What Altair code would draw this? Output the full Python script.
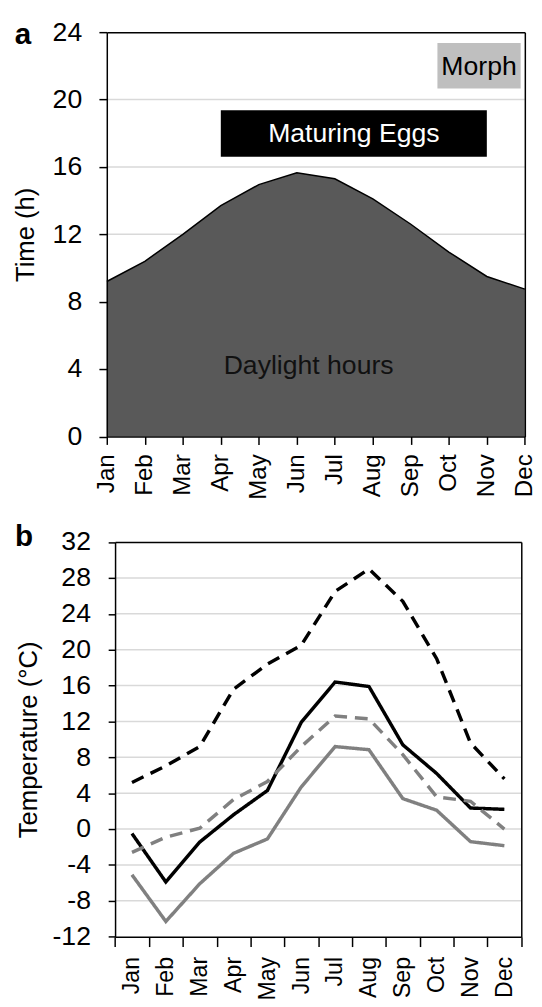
import altair as alt
import pandas as pd

FONT = "Liberation Sans"

# ---------------- data ----------------
months = ["Jan", "Feb", "Mar", "Apr", "May", "Jun", "Jul", "Aug", "Sep", "Oct", "Nov", "Dec"]

# panel a: daylight hours
daylight = [9.2, 10.4, 12.0, 13.7, 14.95, 15.65, 15.3, 14.1, 12.6, 10.95, 9.5, 8.75]
hour_ticks = [0, 4, 8, 12, 16, 20, 24]
hour_grid = [4, 8, 12, 16, 20]

# annotation boxes (month index extents, hour extents)
box_labels = ["Maturing Eggs", "Morph"]
box_x0 = [3.0, 8.7]
box_x1 = [10.0, 10.89]
box_y0 = [16.6, 20.65]
box_y1 = [19.36, 23.36]
box_fill = ["#000000", "#bfbfbf"]
box_textcolor = ["#ffffff", "#000000"]

daylight_label = ["Daylight hours"]
daylight_label_x = [5.31]
daylight_label_y = [3.73]

# panel b: temperatures
series_names = ["gray solid", "black solid", "gray dashed", "black dashed"]
gray_solid = [-5.1, -10.3, -6.1, -2.7, -1.1, 4.7, 9.2, 8.85, 3.4, 2.1, -1.4, -1.85]
black_solid = [-0.5, -5.9, -1.45, 1.6, 4.3, 11.9, 16.4, 15.9, 9.4, 6.2, 2.35, 2.2]
gray_dashed = [-2.6, -0.9, 0.1, 3.3, 5.3, 9.2, 12.6, 12.3, 8.3, 3.6, 3.1, 0.0]
black_dashed = [5.2, 7.05, 9.2, 15.6, 18.4, 20.5, 26.5, 29.0, 25.4, 19.0, 9.6, 5.6]
series_colors = ["#808080", "#000000", "#808080", "#000000"]
series_dashes = [[1, 0], [1, 0], [13, 8], [13, 8]]
temp_ticks = [-12, -8, -4, 0, 4, 8, 12, 16, 20, 24, 28, 32]
temp_grid = [-8, -4, 0, 4, 8, 12, 16, 20, 24, 28]

# ---------------- layout (pixels inside the single view) ----------------
PAD_L, PAD_T = 100.3, 17
W, H = 433.7, 974
A_W, A_TOP, A_BOT = 424.4, 0, 410.5                 # panel a plot box
B_X0, B_X1, B_TOP, B_BOT = 8.4, 420.8, 517.7, 918.3  # panel b plot box

# ---------------- tables ----------------
nm = len(months)
top_df = pd.DataFrame({"m": list(range(nm)), "hours": daylight})
grid_a_df = pd.DataFrame({"h": hour_grid, "xs": 0, "xe": nm - 1})
box_df = pd.DataFrame({"label": box_labels, "x0": box_x0, "x1": box_x1,
                       "y0": box_y0, "y1": box_y1, "fill": box_fill, "tc": box_textcolor})
day_df = pd.DataFrame({"label": daylight_label, "x": daylight_label_x, "y": daylight_label_y})
grid_b_df = pd.DataFrame({"t": temp_grid, "xs": 0, "xe": nm})

rows = []
for name, vals in zip(series_names, [gray_solid, black_solid, gray_dashed, black_dashed]):
    for mo, v in zip(months, vals):
        rows.append({"month": mo, "temp": v, "series": name})
bot_df = pd.DataFrame(rows)

label_expr = "[" + ",".join("'%s'" % m for m in months) + "][datum.value]"

XT = alt.Scale(domain=[0, nm - 1], range=[0, A_W], nice=False, zero=False)
YT = alt.Scale(domain=[0, 24], range=[A_BOT, A_TOP], nice=False, zero=False)
XB = alt.Scale(type="band", domain=months, range=[B_X0, B_X1], paddingInner=0, paddingOuter=0)
XBQ = alt.Scale(domain=[0, nm], range=[B_X0, B_X1], nice=False, zero=False)
YB = alt.Scale(domain=[-12, 32], range=[B_BOT, B_TOP], nice=False, zero=False)


def border_axis(orient, offset):
    return alt.Axis(orient=orient, labels=False, ticks=False, title=None, grid=False,
                    zindex=1, offset=offset)


# ---------------- panel a ----------------
grid_a = alt.Chart(grid_a_df).mark_rule(color="#d9d9d9", strokeWidth=1.5).encode(
    x=alt.X("xs:Q", scale=XT, axis=None), x2="xe",
    y=alt.Y("h:Q", scale=YT, axis=None),
)

area = alt.Chart(top_df).mark_area(
    color="#595959", opacity=1, line={"color": "#000000", "strokeWidth": 1.5}
).encode(
    x=alt.X("m:Q", scale=XT,
            axis=alt.Axis(orient="bottom", offset=A_BOT - H, values=list(range(nm)),
                          labelExpr=label_expr, labelAngle=-90, labelOverlap=False,
                          title=None, grid=False, tickSize=8, labelPadding=9.5,
                          labelFontSize=24.5, zindex=1)),
    y=alt.Y("hours:Q", scale=YT,
            axis=alt.Axis(orient="left", values=hour_ticks, title="Time (h)", grid=False,
                          tickSize=8, labelPadding=17.5, titlePadding=14, zindex=1)),
)

boxes = alt.Chart(box_df).mark_rect().encode(
    x=alt.X("x0:Q", scale=XT, axis=None), x2="x1",
    y=alt.Y("y0:Q", scale=YT, axis=None), y2="y1",
    color=alt.Color("fill:N", scale=None),
)
box_text = alt.Chart(box_df).transform_calculate(
    cx="(datum.x0 + datum.x1) / 2", cy="(datum.y0 + datum.y1) / 2"
).mark_text(fontSize=27, font=FONT, baseline="middle", align="center", dy=1).encode(
    x=alt.X("cx:Q", scale=XT, axis=None), y=alt.Y("cy:Q", scale=YT, axis=None),
    text="label:N", color=alt.Color("tc:N", scale=None),
)
day_text = alt.Chart(day_df).mark_text(
    fontSize=27, font=FONT, color="#111111", baseline="alphabetic", align="center"
).encode(x=alt.X("x:Q", scale=XT, axis=None), y=alt.Y("y:Q", scale=YT, axis=None),
         text="label:N")

border_a = alt.Chart(top_df).mark_line(opacity=0).encode(
    x=alt.X("m:Q", scale=XT, axis=border_axis("top", -A_TOP)),
    y=alt.Y("hours:Q", scale=YT, axis=border_axis("right", A_W - W)),
)

# ---------------- panel b ----------------
grid_b = alt.Chart(grid_b_df).mark_rule(color="#d9d9d9", strokeWidth=1.5).encode(
    x=alt.X("xs:Q", scale=XBQ, axis=None), x2="xe",
    y=alt.Y("t:Q", scale=YB, axis=None),
)

lines = alt.Chart(bot_df).mark_line(strokeWidth=3.5, strokeCap="butt").encode(
    x=alt.X("month:O", sort=months, scale=XB, bandPosition=0.5,
            axis=alt.Axis(orient="bottom", offset=B_BOT - H, title=None, labelAngle=-90,
                          tickBand="extent", grid=False, labelOverlap=False, tickSize=10,
                          labelPadding=10, labelFontSize=23.5, zindex=1)),
    y=alt.Y("temp:Q", scale=YB,
            axis=alt.Axis(orient="left", offset=-B_X0, values=temp_ticks,
                          title="Temperature (°C)", grid=False, tickSize=7,
                          labelPadding=18, titlePadding=11, zindex=1,
                          labelExpr="replace(datum.label, '\u2212', '-')")),
    color=alt.Color("series:N", scale=alt.Scale(domain=series_names, range=series_colors),
                    legend=None),
    strokeDash=alt.StrokeDash("series:N",
                              scale=alt.Scale(domain=series_names, range=series_dashes),
                              legend=None),
)

border_b = alt.Chart(bot_df).mark_line(opacity=0).encode(
    x=alt.X("month:O", sort=months, scale=XB, bandPosition=0.5,
            axis=border_axis("top", -B_TOP)),
    y=alt.Y("temp:Q", scale=YB, axis=border_axis("right", B_X1 - W)),
    detail="series:N",
)

# ---------------- panel letters ----------------
panel_labels = pd.DataFrame({"t": ["a", "b"], "px": [-85, -84.1], "py": [11.7, 521.7]})
ab_text = alt.Chart(panel_labels).mark_text(
    fontSize=30, fontWeight="bold", font=FONT, align="center", baseline="alphabetic"
).encode(text="t:N", x=alt.X("px:Q", scale=None, axis=None),
         y=alt.Y("py:Q", scale=None, axis=None))

chart = alt.layer(
    grid_a, area, boxes, box_text, day_text, border_a,
    grid_b, lines, border_b, ab_text,
).resolve_scale(
    x="independent", y="independent"
).resolve_axis(
    x="independent", y="independent"
).properties(
    width=W, height=H,
    autosize=alt.AutoSizeParams(type="none"),
    padding={"left": PAD_L, "top": PAD_T, "right": 0, "bottom": 0},
).configure_view(
    stroke="transparent"
).configure_axis(
    labelFont=FONT, titleFont=FONT, labelFontSize=27, titleFontSize=26,
    labelColor="#000000", titleColor="#000000", titleFontWeight="normal",
    domainColor="#000000", tickColor="#000000", domainWidth=1.5, tickWidth=1.5,
)

chart.save("out.html", embed_options={"renderer": "svg", "actions": False})
